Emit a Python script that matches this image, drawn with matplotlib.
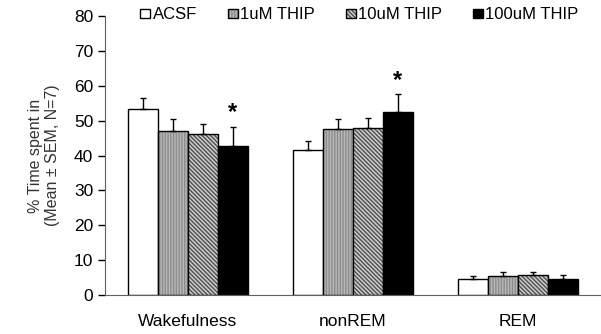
import matplotlib
matplotlib.use("Agg")
import matplotlib.pyplot as plt
import numpy as np

plt.rcParams['font.family'] = ['Liberation Sans', 'DejaVu Sans']
plt.rcParams['hatch.linewidth'] = 1.0

states = ['Wakefulness', 'nonREM', 'REM']
groups = ['ACSF', '1uM THIP', '10uM THIP', '100uM THIP']

means = {
    'ACSF': [53.3, 41.7, 4.7],
    '1uM THIP': [47.1, 47.5, 5.4],
    '10uM THIP': [46.1, 48.0, 5.7],
    '100uM THIP': [42.8, 52.6, 4.6],
}
sems = {
    'ACSF': [3.1, 2.6, 0.8],
    '1uM THIP': [3.3, 3.0, 1.3],
    '10uM THIP': [2.9, 2.7, 0.8],
    '100uM THIP': [5.4, 4.9, 1.2],
}
# groups marked as significant (state index, group)
significant = [(0, '100uM THIP'), (1, '100uM THIP')]

styles = {
    'ACSF': dict(facecolor='white', hatch=None),
    '1uM THIP': dict(facecolor='#b8b8b8', hatch='||||||'),
    '10uM THIP': dict(facecolor='#cccccc', hatch='\\\\\\\\\\\\\\\\'),
    '100uM THIP': dict(facecolor='black', hatch=None),
}
hatch_colors = {'1uM THIP': '#8c8c8c', '10uM THIP': '#505050'}

fig, ax = plt.subplots(figsize=(6.01, 3.34), dpi=100)
fig.subplots_adjust(left=0.1747, right=0.998, top=0.952, bottom=0.1168)

x = np.arange(len(states))
width = 0.182
for i, g in enumerate(groups):
    pos = x + (i - 1.5) * width
    bars = ax.bar(pos, means[g], width, edgecolor='black', linewidth=1.0,
                  label=g, zorder=2, **styles[g])
    if g in hatch_colors:
        for b in bars:
            b._hatch_color = matplotlib.colors.to_rgba(hatch_colors[g])
    upper = np.zeros((2, len(states)))
    upper[1] = sems[g]
    ax.errorbar(pos, means[g], yerr=upper, fmt='none', ecolor='black',
                elinewidth=1.0, capsize=2, capthick=1.0, zorder=3)

for si, g in significant:
    i = groups.index(g)
    pos = x[si] + (i - 1.5) * width
    ax.text(pos, means[g][si] + sems[g][si] + 0.8, '*', ha='center',
            va='bottom', fontsize=17, fontweight='bold')

ax.set_xlim(-0.503, 2.497)
ax.set_ylim(0, 80)
ax.set_yticks(range(0, 81, 10))
ax.set_xticks(x)
ax.set_xticklabels(states, fontsize=12.5)
ax.tick_params(axis='x', length=0, pad=14)
ax.tick_params(axis='y', labelsize=12.5, length=5, direction='out', width=1)
ax.spines['top'].set_visible(False)
ax.spines['right'].set_visible(False)
ax.spines['left'].set_color('#606060')
ax.spines['bottom'].set_color('#606060')
ax.set_ylabel('% Time spent in\n(Mean \u00b1 SEM, N=7)', fontsize=11.5,
              color='#333333', labelpad=10)

ax.legend(loc='center left', bbox_to_anchor=(0.0707, 1.004), ncol=4,
          frameon=False, fontsize=12, handlelength=0.6, handleheight=0.45,
          handletextpad=0.15, columnspacing=1.85, borderaxespad=0,
          borderpad=0)

fig.savefig('out.png', dpi=100)
